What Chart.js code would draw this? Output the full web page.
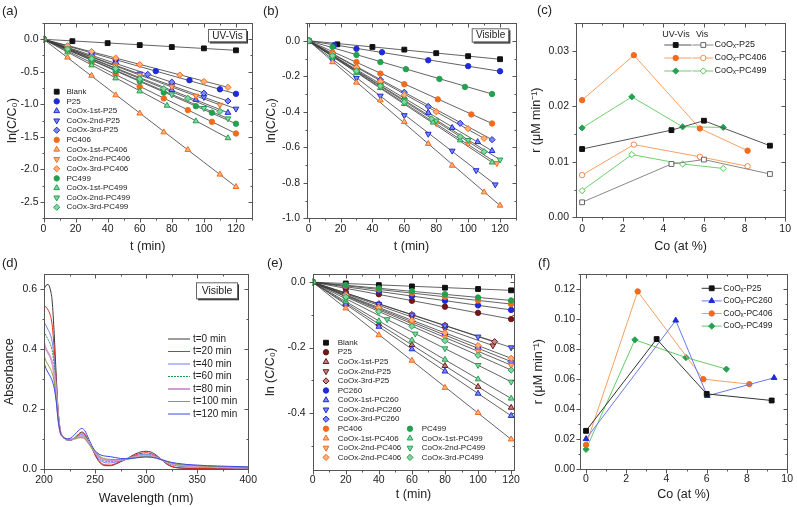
<!DOCTYPE html>
<html>
<head>
<meta charset="utf-8">
<script src="https://cdn.jsdelivr.net/npm/chart.js@4.4.1/dist/chart.umd.min.js"></script>
<style>
html, body { margin: 0; padding: 0; background: #fff; }
#wrap { position: relative; width: 797px; height: 507px; overflow: hidden; }
canvas { position: absolute; }
</style>
</head>
<body>
<div id="wrap">
  <canvas id="cA" width="262" height="254" style="left:0;top:0"></canvas>
  <canvas id="cB" width="262" height="254" style="left:262px;top:0"></canvas>
  <canvas id="cC" width="273" height="254" style="left:524px;top:0"></canvas>
  <canvas id="cD" width="262" height="253" style="left:0;top:254px"></canvas>
  <canvas id="cE" width="262" height="253" style="left:262px;top:254px"></canvas>
  <canvas id="cF" width="273" height="253" style="left:524px;top:254px"></canvas>
</div>
<script>
// ---- (a) UV-Vis kinetics ----
const aSeries = ['Blank', 'P25', 'CoOx-1st-P25', 'CoOx-2nd-P25', 'CoOx-3rd-P25', 'PC406', 'CoOx-1st-PC406',
  'CoOx-2nd-PC406', 'CoOx-3rd-PC406', 'PC499', 'CoOx-1st-PC499', 'CoOx-2nd-PC499', 'CoOx-3rd-PC499'];
const aTime = [
  [0, 18, 40, 60, 80, 100, 120],
  [0, 15, 30, 45, 70, 91, 110, 120],
  [0, 15, 30, 45, 60, 80, 95, 115],
  [0, 15, 30, 45, 60, 80, 100, 120],
  [0, 15, 30, 45, 65, 80, 100, 115],
  [0, 15, 30, 45, 60, 75, 90, 105, 120],
  [0, 15, 30, 45, 60, 75, 90, 110, 120],
  [0, 15, 30, 45, 60, 80, 95, 110],
  [0, 15, 30, 45, 60, 85, 100, 115],
  [0, 15, 30, 45, 60, 75, 95, 105, 120],
  [0, 15, 30, 45, 60, 77, 95, 115],
  [0, 15, 30, 45, 60, 80, 100, 115],
  [0, 15, 30, 45, 60, 75, 90, 110]
];
const aLnC = [
  [0, -0.03, -0.06, -0.09, -0.12, -0.14, -0.17],
  [0, -0.11, -0.21, -0.32, -0.49, -0.63, -0.77, -0.84],
  [0, -0.15, -0.29, -0.44, -0.59, -0.78, -0.93, -1.13],
  [0, -0.13, -0.27, -0.40, -0.53, -0.71, -0.89, -1.07],
  [0, -0.12, -0.25, -0.37, -0.54, -0.66, -0.83, -0.95],
  [0, -0.18, -0.36, -0.54, -0.73, -0.91, -1.09, -1.27, -1.45],
  [0, -0.28, -0.56, -0.86, -1.14, -1.43, -1.70, -2.08, -2.27],
  [0, -0.14, -0.28, -0.41, -0.55, -0.73, -0.87, -1.01],
  [0, -0.10, -0.19, -0.29, -0.39, -0.55, -0.65, -0.74],
  [0, -0.16, -0.33, -0.49, -0.65, -0.82, -1.03, -1.13, -1.30],
  [0, -0.20, -0.40, -0.60, -0.80, -1.02, -1.26, -1.52],
  [0, -0.16, -0.32, -0.48, -0.64, -0.85, -1.06, -1.22],
  [0, -0.15, -0.30, -0.45, -0.61, -0.76, -0.91, -1.11]
];
const aXTicks = [0, 20, 40, 60, 80, 100, 120];
const aYTicks = [0, -0.5, -1.0, -1.5, -2.0, -2.5];

// ---- (b) Visible kinetics ----
const bTime = [
  [0, 18, 40, 60, 80, 100, 120],
  [0, 16, 30, 46, 75, 100, 120],
  [0, 15, 30, 45, 60, 75, 90, 106, 115],
  [0, 15, 30, 45, 60, 75, 90, 105, 117],
  [0, 15, 30, 45, 60, 75, 95, 115],
  [0, 15, 30, 45, 60, 81, 102, 115],
  [0, 15, 30, 45, 60, 75, 90, 110, 120],
  [0, 15, 30, 45, 60, 80, 100, 118],
  [0, 15, 30, 45, 60, 80, 100, 110],
  [0, 15, 30, 45, 61, 82, 98, 115],
  [0, 15, 30, 45, 60, 78, 95, 115],
  [0, 15, 30, 45, 60, 80, 100, 120],
  [0, 15, 30, 45, 60, 77, 95, 110]
];
const bLnC = [
  [0, -0.02, -0.035, -0.05, -0.07, -0.087, -0.104],
  [0, -0.025, -0.045, -0.065, -0.11, -0.143, -0.172],
  [0, -0.08, -0.16, -0.24, -0.32, -0.405, -0.49, -0.57, -0.62],
  [0, -0.11, -0.21, -0.31, -0.42, -0.525, -0.62, -0.73, -0.81],
  [0, -0.075, -0.15, -0.22, -0.29, -0.37, -0.465, -0.557],
  [0, -0.067, -0.12, -0.185, -0.245, -0.33, -0.415, -0.466],
  [0, -0.12, -0.235, -0.335, -0.457, -0.58, -0.703, -0.853, -0.928],
  [0, -0.09, -0.175, -0.26, -0.35, -0.465, -0.58, -0.69],
  [0, -0.075, -0.15, -0.23, -0.305, -0.40, -0.495, -0.55],
  [0, -0.035, -0.08, -0.12, -0.16, -0.215, -0.26, -0.30],
  [0, -0.09, -0.18, -0.265, -0.355, -0.46, -0.56, -0.685],
  [0, -0.085, -0.17, -0.25, -0.335, -0.45, -0.56, -0.67],
  [0, -0.085, -0.17, -0.255, -0.345, -0.44, -0.54, -0.625]
];
const bYTicks = [0, -0.2, -0.4, -0.6, -0.8, -1.0];

// ---- (c) rates vs Co ----
const cCoP25 = [0, 4.4, 6.0, 9.25];
const cUvP25 = [0.0123, 0.0157, 0.0174, 0.0129];
const cVisP25 = [0.0027, 0.0096, 0.0104, 0.0078];
const cCoPC406 = [0, 2.55, 5.8, 8.15];
const cUvPC406 = [0.0211, 0.0292, 0.0160, 0.0120];
const cVisPC406 = [0.0076, 0.0131, 0.0109, 0.0092];
const cCoPC499 = [0, 2.45, 4.95, 6.95];
const cUvPC499 = [0.0161, 0.0217, 0.0163, 0.0162];
const cVisPC499 = [0.0048, 0.0113, 0.0096, 0.0088];
const cXTicks = [0, 2, 4, 6, 8, 10];
const cYTicks = [0, 0.01, 0.02, 0.03];

// ---- (d) spectra ----
const dWave = [200, 202, 204, 206, 208, 210, 212, 214, 216, 218, 220,
  223, 226, 230, 234, 237, 240, 244, 248, 252, 256, 260,
  265, 270, 275, 280, 285, 290, 295, 300, 305, 310, 315, 320, 325, 330,
  340, 350, 360, 370, 380, 390, 400];
const dLabels = ['t=0 min', 't=20 min', 't=40 min', 't=60 min', 't=80 min', 't=100 min', 't=120 min'];
const dAbs = [
  [0.600, 0.612, 0.615, 0.600, 0.560, 0.450, 0.310, 0.190, 0.130, 0.110, 0.104,
   0.098, 0.097, 0.104, 0.118, 0.124, 0.117, 0.090, 0.062, 0.035, 0.018, 0.012,
   0.012, 0.017, 0.025, 0.033, 0.043, 0.052, 0.058, 0.060, 0.057, 0.047, 0.033, 0.018, 0.009, 0.005,
   0.003, 0.002, 0.002, 0.002, 0.002, 0.002, 0.002],
  [0.545, 0.540, 0.530, 0.515, 0.480, 0.400, 0.290, 0.185, 0.128, 0.110, 0.104,
   0.096, 0.096, 0.104, 0.116, 0.121, 0.114, 0.088, 0.062, 0.038, 0.021, 0.015,
   0.014, 0.019, 0.026, 0.033, 0.041, 0.048, 0.053, 0.055, 0.052, 0.044, 0.032, 0.019, 0.010, 0.006,
   0.004, 0.003, 0.003, 0.003, 0.003, 0.003, 0.003],
  [0.490, 0.478, 0.465, 0.450, 0.425, 0.365, 0.275, 0.180, 0.127, 0.110, 0.104,
   0.097, 0.098, 0.104, 0.113, 0.116, 0.110, 0.088, 0.064, 0.043, 0.028, 0.022,
   0.021, 0.024, 0.028, 0.033, 0.039, 0.045, 0.049, 0.050, 0.048, 0.042, 0.032, 0.022, 0.015, 0.011,
   0.008, 0.007, 0.006, 0.005, 0.005, 0.004, 0.004],
  [0.460, 0.445, 0.432, 0.418, 0.395, 0.345, 0.265, 0.175, 0.125, 0.110, 0.104,
   0.098, 0.098, 0.103, 0.110, 0.112, 0.107, 0.087, 0.065, 0.046, 0.032, 0.027,
   0.026, 0.027, 0.030, 0.034, 0.038, 0.043, 0.046, 0.047, 0.045, 0.040, 0.032, 0.024, 0.017, 0.013,
   0.010, 0.008, 0.007, 0.006, 0.006, 0.005, 0.005],
  [0.420, 0.400, 0.388, 0.375, 0.355, 0.315, 0.250, 0.170, 0.124, 0.110, 0.104,
   0.099, 0.099, 0.102, 0.107, 0.108, 0.104, 0.086, 0.066, 0.049, 0.036, 0.031,
   0.030, 0.030, 0.032, 0.034, 0.037, 0.041, 0.044, 0.045, 0.043, 0.039, 0.032, 0.025, 0.019, 0.015,
   0.012, 0.010, 0.009, 0.008, 0.007, 0.006, 0.006],
  [0.380, 0.360, 0.348, 0.336, 0.320, 0.290, 0.235, 0.165, 0.123, 0.110, 0.104,
   0.100, 0.100, 0.102, 0.105, 0.105, 0.101, 0.085, 0.067, 0.051, 0.040, 0.035,
   0.033, 0.032, 0.033, 0.034, 0.036, 0.039, 0.041, 0.042, 0.041, 0.038, 0.032, 0.026, 0.021, 0.017,
   0.014, 0.012, 0.010, 0.009, 0.008, 0.007, 0.007],
  [0.355, 0.335, 0.322, 0.310, 0.295, 0.270, 0.225, 0.160, 0.122, 0.110, 0.104,
   0.101, 0.104, 0.115, 0.130, 0.136, 0.128, 0.100, 0.072, 0.055, 0.047, 0.044,
   0.042, 0.039, 0.036, 0.035, 0.036, 0.038, 0.040, 0.041, 0.040, 0.037, 0.032, 0.027, 0.023, 0.020,
   0.016, 0.014, 0.012, 0.011, 0.010, 0.009, 0.008]
];
const dXTicks = [200, 250, 300, 350, 400];
const dYTicks = [0, 0.2, 0.4, 0.6];

// ---- (e) visible kinetics, more catalysts ----
const eSeries = ['Blank', 'P25', 'CoOx-1st-P25', 'CoOx-2nd-P25', 'CoOx-3rd-P25', 'PC260', 'CoOx-1st-PC260',
  'CoOx-2nd-PC260', 'CoOx-3rd-PC260', 'PC406', 'CoOx-1st-PC406', 'CoOx-2nd-PC406', 'CoOx-2nd-PC406',
  'PC499', 'CoOx-1st-PC499', 'CoOx-2nd-PC499', 'CoOx-3rd-PC499'];
const eTime = [
  [0, 20, 40, 60, 80, 100, 120],
  [0, 20, 40, 60, 80, 100, 120],
  [0, 20, 40, 60, 80, 100, 120],
  [0, 20, 40, 60, 80, 109],
  [0, 20, 40, 60, 80, 110],
  [0, 20, 40, 60, 80, 100, 120],
  [0, 20, 40, 60, 80, 100, 120],
  [0, 20, 40, 60, 80, 100, 120],
  [0, 20, 40, 60, 80, 100, 120],
  [0, 20, 40, 60, 80, 100, 120],
  [0, 20, 40, 60, 80, 100, 120],
  [0, 20, 40, 60, 80, 100, 120],
  [0, 20, 40, 60, 80, 100, 120],
  [0, 20, 40, 60, 80, 100, 120],
  [0, 20, 40, 60, 80, 100, 120],
  [0, 20, 45, 62, 80, 100, 120],
  [0, 20, 40, 60, 80, 100, 120]
];
const eLnC = [
  [0, -0.004, -0.009, -0.013, -0.017, -0.021, -0.025],
  [0, -0.020, -0.037, -0.057, -0.075, -0.094, -0.113],
  [0, -0.064, -0.128, -0.192, -0.256, -0.320, -0.384],
  [0, -0.036, -0.071, -0.107, -0.142, -0.194],
  [0, -0.033, -0.066, -0.099, -0.132, -0.182],
  [0, -0.014, -0.028, -0.043, -0.057, -0.071, -0.085],
  [0, -0.068, -0.136, -0.205, -0.273, -0.341, -0.409],
  [0, -0.033, -0.067, -0.100, -0.133, -0.167, -0.200],
  [0, -0.040, -0.081, -0.121, -0.162, -0.202, -0.243],
  [0, -0.011, -0.022, -0.034, -0.045, -0.056, -0.067],
  [0, -0.080, -0.162, -0.240, -0.323, -0.400, -0.481],
  [0, -0.042, -0.085, -0.127, -0.169, -0.212, -0.254],
  [0, -0.039, -0.078, -0.117, -0.155, -0.194, -0.233],
  [0, -0.009, -0.019, -0.028, -0.037, -0.047, -0.056],
  [0, -0.059, -0.119, -0.178, -0.237, -0.297, -0.356],
  [0, -0.051, -0.114, -0.158, -0.203, -0.254, -0.305],
  [0, -0.045, -0.090, -0.135, -0.179, -0.224, -0.269]
];
const eXTicks = [0, 20, 40, 60, 80, 100, 120];
const eYTicks = [0, -0.2, -0.4];

// ---- (f) visible rates vs Co ----
const fCoP25 = [0, 3.51, 6.0, 9.23];
const fRP25 = [0.0256, 0.0867, 0.0502, 0.0458];
const fCoPC260 = [0, 4.46, 6.03, 9.35];
const fRPC260 = [0.0202, 0.0991, 0.0489, 0.0609];
const fCoPC406 = [0, 2.57, 5.83, 8.12];
const fRPC406 = [0.0162, 0.1184, 0.0600, 0.0567];
const fCoPC499 = [0, 2.43, 4.97, 6.98];
const fRPC499 = [0.0133, 0.0862, 0.0744, 0.0667];
const fXTicks = [0, 2, 4, 6, 8, 10];
const fYTicks = [0, 0.02, 0.04, 0.06, 0.08, 0.10, 0.12];

// styles
const FF = '"Liberation Sans", Arial, Helvetica, sans-serif';
const INK = '#222';
const FAM = {
  k: { c: '#111111', l: '#111111' },
  b: { c: '#1f2bd6', l: '#7d87ee' },
  o: { c: '#f26a1e', l: '#fbb27c' },
  g: { c: '#23a150', l: '#86d5a0' },
  m: { c: '#701818', l: '#c08585' }
};
const SHAPE = { rect: ['rect', 0, 3.4], circle: ['circle', 0, 2.7], tri: ['triangle', 0, 3.3], down: ['triangle', 180, 3.3], dia: ['rectRot', 0, 3.1] };
const abShapes = ['rect', 'circle', 'tri', 'down', 'dia', 'circle', 'tri', 'down', 'dia', 'circle', 'tri', 'down', 'dia'];
const abFams = ['k', 'b', 'b', 'b', 'b', 'o', 'o', 'o', 'o', 'g', 'g', 'g', 'g'];
const eShapes = ['rect', 'circle', 'tri', 'down', 'dia', 'circle', 'tri', 'down', 'dia', 'circle', 'tri', 'down', 'dia', 'circle', 'tri', 'down', 'dia'];
const eFams = ['k', 'm', 'm', 'm', 'm', 'b', 'b', 'b', 'b', 'o', 'o', 'o', 'o', 'g', 'g', 'g', 'g'];
const dColors = ['#3a3a3a', '#e8281e', '#6f7ff0', '#1e9a50', '#d79bd2', '#8aa040', '#3848e8'];
const dWidths = [1, 1, 1, 1, 2, 1, 1];

Chart.defaults.font.family = FF;
Chart.defaults.color = INK;

const fmt = d => v => v.toFixed(d);

function fillOf(sh, fam) {
  return (sh === 'rect' || sh === 'circle') ? FAM[fam].c : FAM[fam].l;
}

function drawMarker(ctx, sh, fill, stroke, x, y) {
  const s = SHAPE[sh];
  ctx.save();
  ctx.fillStyle = fill;
  ctx.strokeStyle = stroke;
  ctx.lineWidth = 1;
  Chart.helpers.drawPoint(ctx, { pointStyle: s[0], rotation: s[1], radius: s[2], borderWidth: 1 }, x, y);
  ctx.restore();
}

function txt(ctx, s, x, y, size, align) {
  ctx.save();
  ctx.font = size + 'px ' + FF;
  ctx.fillStyle = INK;
  ctx.textAlign = align || 'left';
  ctx.textBaseline = 'middle';
  ctx.fillText(s, x, y);
  ctx.restore();
}

function tagBox(ctx, x, y, w, h, s, size) {
  ctx.save();
  ctx.fillStyle = '#333';
  ctx.fillRect(x + 2, y + 2, w, h);
  ctx.fillStyle = '#fff';
  ctx.fillRect(x, y, w, h);
  ctx.strokeStyle = '#666';
  ctx.lineWidth = 1;
  ctx.strokeRect(x + 0.5, y + 0.5, w, h);
  ctx.restore();
  txt(ctx, s, x + w / 2 + 0.5, y + h / 2 + 0.5, size, 'center');
}

function seg(ctx, x1, x2, y, color, width, dash) {
  ctx.save();
  ctx.strokeStyle = color;
  ctx.lineWidth = width;
  ctx.setLineDash(dash || []);
  ctx.beginPath();
  ctx.moveTo(x1, y);
  ctx.lineTo(x2, y);
  ctx.stroke();
  ctx.restore();
}

// frame with mirrored ticks: out on left/bottom, in on top/right
function frameTicks(xs, ys) {
  return {
    id: 'frameTicks',
    afterDatasetsDraw(chart) {
      const { ctx, chartArea: a } = chart;
      const X = chart.scales.x, Y = chart.scales.y;
      const L = Math.round(a.left) + 0.5, R = Math.round(a.right) + 0.5;
      const T = Math.round(a.top) + 0.5, B = Math.round(a.bottom) + 0.5;
      ctx.save();
      ctx.strokeStyle = '#555';
      ctx.lineWidth = 1;
      ctx.strokeRect(L, T, R - L, B - T);
      ctx.beginPath();
      const steps = (s, step) => {
        const out = [];
        for (let k = Math.ceil(s.min / step - 1e-6); k * step <= s.max + 1e-6; k++) out.push(k * step);
        return out;
      };
      steps(X, xs.minor).forEach(v => {
        const len = xs.ticks.some(t => Math.abs(t - v) < 1e-6) ? 4 : 2;
        const p = Math.round(X.getPixelForValue(v)) + 0.5;
        ctx.moveTo(p, B); ctx.lineTo(p, B + len);
        ctx.moveTo(p, T); ctx.lineTo(p, T + len);
      });
      steps(Y, ys.minor).forEach(v => {
        const len = ys.ticks.some(t => Math.abs(t - v) < 1e-6) ? 4 : 2;
        const p = Math.round(Y.getPixelForValue(v)) + 0.5;
        ctx.moveTo(L, p); ctx.lineTo(L - len, p);
        ctx.moveTo(R, p); ctx.lineTo(R - len, p);
      });
      ctx.stroke();
      ctx.restore();
    }
  };
}

function axis(s, isX, size) {
  return {
    type: 'linear',
    min: s.min,
    max: s.max,
    afterBuildTicks: sc => { sc.ticks = s.ticks.map(v => ({ value: v })); },
    afterFit: sc => { if (isX) sc.height = size; else sc.width = size; },
    grid: { display: false, drawTicks: false },
    border: { display: false },
    ticks: { autoSkip: false, maxRotation: 0, padding: s.pad, font: { size: 10.5 }, color: INK, callback: v => s.fmt(v) },
    title: { display: true, text: s.title, font: { size: 12.5 }, color: INK, padding: s.tpad }
  };
}

function panel(id, box, xs, ys, datasets, overlay) {
  return new Chart(document.getElementById(id), {
    type: 'scatter',
    data: { datasets },
    options: {
      responsive: false,
      animation: false,
      devicePixelRatio: 1,
      layout: { padding: { left: 0, top: box.top, right: box.right, bottom: 0 }, autoPadding: false },
      plugins: { legend: { display: false }, tooltip: { enabled: false } },
      scales: { x: axis(xs, true, box.xh), y: axis(ys, false, box.yw) }
    },
    plugins: [frameTicks(xs, ys), { id: 'overlay', afterDraw: c => overlay(c.ctx) }]
  });
}

function kinetic(names, times, vals, shapes, fams) {
  const pts = [], fits = [];
  names.forEach((n, i) => {
    const data = times[i].map((t, j) => ({ x: t, y: vals[i][j] }));
    const s = SHAPE[shapes[i]];
    pts.push({
      label: n, data, showLine: false,
      pointStyle: s[0], pointRotation: s[1], pointRadius: s[2],
      pointBackgroundColor: fillOf(shapes[i], fams[i]), pointBorderColor: FAM[fams[i]].c, pointBorderWidth: 1,
      order: names.length - i
    });
    fits.push({
      data: [data[0], data[data.length - 1]], showLine: true,
      borderColor: '#3c3c3c', borderWidth: 0.8, pointRadius: 0, order: 100
    });
  });
  return pts.concat(fits);
}

function rateLine(xv, yv, line, sh, fill, stroke) {
  const s = SHAPE[sh];
  return {
    data: xv.map((x, i) => ({ x, y: yv[i] })), showLine: true,
    borderColor: line, borderWidth: 1,
    pointStyle: s[0], pointRotation: s[1], pointRadius: s[2],
    pointBackgroundColor: fill, pointBorderColor: stroke, pointBorderWidth: 1
  };
}

// (a)
panel('cA', { top: 23, right: 10, xh: 36, yw: 43.5 },
  { min: 0, max: 130, ticks: aXTicks, minor: 10, fmt: fmt(0), pad: 5, title: 't (min)', tpad: { top: 0, bottom: 0 } },
  { min: -2.75, max: 0.25, ticks: aYTicks, minor: 0.25, fmt: fmt(1), pad: 5, title: 'ln(C/C\u2080)', tpad: { top: 5.5, bottom: 0 } },
  kinetic(aSeries, aTime, aLnC, abShapes, abFams),
  ctx => {
    txt(ctx, '(a)', 2, 11, 13);
    tagBox(ctx, 208, 29, 38, 12.5, 'UV-Vis', 10);
    aSeries.forEach((n, i) => {
      const y = 91.7 + i * 9.63;
      drawMarker(ctx, abShapes[i], fillOf(abShapes[i], abFams[i]), FAM[abFams[i]].c, 56.7, y);
      txt(ctx, n, 66.5, y, 8);
    });
  });

// (b)
panel('cB', { top: 23, right: 8, xh: 35.7, yw: 45 },
  { min: -1, max: 130, ticks: aXTicks, minor: 10, fmt: fmt(0), pad: 5, title: 't (min)', tpad: { top: 0, bottom: 0 } },
  { min: -1.0, max: 0.1, ticks: bYTicks, minor: 0.1, fmt: fmt(1), pad: 7, title: 'ln(C/C\u2080)', tpad: { top: 2.5, bottom: 0 } },
  kinetic(aSeries, bTime, bLnC, abShapes, abFams),
  ctx => {
    txt(ctx, '(b)', 1, 11, 13);
    tagBox(ctx, 209.7, 28.3, 36.7, 13.3, 'Visible', 10);
  });

// (c)
const cRows = [
  ['CoO\u2093-P25', '#555555', 'rect', '#111111', '#111111', '#888888', '#666666'],
  ['CoO\u2093-PC406', '#f7a066', 'circle', '#f26a1e', '#f26a1e', '#f7a066', '#f5884a'],
  ['CoO\u2093-PC499', '#6fcf6f', 'dia', '#23a150', '#23a150', '#6fcf6f', '#4cc44c']
];
panel('cC', { top: 23, right: 11.5, xh: 36.7, yw: 52 },
  { min: -0.3, max: 10, ticks: cXTicks, minor: 1, fmt: fmt(0), pad: 6, title: 'Co (at %)', tpad: { top: 0, bottom: 0 } },
  { min: 0, max: 0.035, ticks: cYTicks, minor: 0.005, fmt: fmt(2), pad: 7, title: 'r (\u03bcM min\u207b\u00b9)', tpad: { top: 5.5, bottom: 0 } },
  [
    rateLine(cCoP25, cUvP25, cRows[0][1], 'rect', cRows[0][3], cRows[0][4]),
    rateLine(cCoP25, cVisP25, cRows[0][5], 'rect', '#ffffff', cRows[0][6]),
    rateLine(cCoPC406, cUvPC406, cRows[1][1], 'circle', cRows[1][3], cRows[1][4]),
    rateLine(cCoPC406, cVisPC406, cRows[1][5], 'circle', '#ffffff', cRows[1][6]),
    rateLine(cCoPC499, cUvPC499, cRows[2][1], 'dia', cRows[2][3], cRows[2][4]),
    rateLine(cCoPC499, cVisPC499, cRows[2][5], 'dia', '#ffffff', cRows[2][6])
  ],
  ctx => {
    txt(ctx, '(c)', 13, 10, 13);
    txt(ctx, 'UV-Vis', 138.3, 34.3, 9);
    txt(ctx, 'Vis', 172, 34.3, 9);
    cRows.forEach((r, i) => {
      const y = 45 + i * 13;
      seg(ctx, 140.3, 167.7, y, r[1], 1);
      drawMarker(ctx, r[2], r[3], r[4], 151.7, y);
      seg(ctx, 168.5, 189.3, y, r[5], 1);
      drawMarker(ctx, r[2], '#ffffff', r[6], 179.3, y);
      txt(ctx, r[0], 190.5, y, 9);
    });
  });

// (d)
panel('cD', { top: 20, right: 8, xh: 37.7, yw: 44 },
  { min: 200, max: 400, ticks: dXTicks, minor: 25, fmt: fmt(0), pad: 5, title: 'Wavelength (nm)', tpad: { top: 0, bottom: 1.2 } },
  { min: 0, max: 0.65, ticks: dYTicks, minor: 0.1, fmt: fmt(1), pad: 7, title: 'Absorbance', tpad: { top: 1.8, bottom: 0 } },
  dAbs.map((vals, i) => ({
    data: dWave.map((w, j) => ({ x: w, y: vals[j] })), showLine: true,
    borderColor: dColors[i], borderWidth: dWidths[i], borderDash: i === 3 ? [2, 1] : [],
    pointRadius: 0, cubicInterpolationMode: 'monotone', order: i === 6 ? 0 : 7 - i
  })),
  ctx => {
    txt(ctx, '(d)', 2, 9, 13);
    tagBox(ctx, 196, 28.3, 41, 16, 'Visible', 10.5);
    dLabels.forEach((n, i) => {
      const y = 85 + i * 12.5;
      seg(ctx, 168, 190, y, dColors[i], dWidths[i], i === 3 ? [2, 1] : []);
      txt(ctx, n, 193, y, 10);
    });
  });

// (e)
panel('cE', { top: 20, right: 7.3, xh: 37, yw: 50.7 },
  { min: 0, max: 122, ticks: eXTicks, minor: 10, fmt: fmt(0), pad: 4, title: 't (min)', tpad: { top: 0, bottom: 4.5 } },
  { min: -0.575, max: 0.025, ticks: eYTicks, minor: 0.1, fmt: fmt(1), pad: 7, title: 'ln (C/C\u2080)', tpad: { top: 1.5, bottom: 0 } },
  kinetic(eSeries, eTime, eLnC, eShapes, eFams),
  ctx => {
    txt(ctx, '(e)', 5, 9, 13);
    eSeries.forEach((n, i) => {
      const right = i >= 13;
      const row = right ? i - 4 : i;
      const y = 88.7 + row * 9.56;
      const mx = right ? 148 : 64;
      drawMarker(ctx, eShapes[i], fillOf(eShapes[i], eFams[i]), FAM[eFams[i]].c, mx, y);
      txt(ctx, n, mx + 11.7, y, 8);
    });
  });

// (f)
const fRows = [
  ['CoO\u2093-P25', '#333333', 'rect', '#111111'],
  ['CoO\u2093-PC260', '#6a78ee', 'tri', '#1f2bd6'],
  ['CoO\u2093-PC406', '#f5a060', 'circle', '#f26a1e'],
  ['CoO\u2093-PC499', '#66cc66', 'dia', '#23a150']
];
panel('cF', { top: 20, right: 7, xh: 37.7, yw: 56 },
  { min: -0.3, max: 10, ticks: fXTicks, minor: 1, fmt: fmt(0), pad: 4, title: 'Co (at %)', tpad: { top: 0, bottom: 4.5 } },
  { min: 0, max: 0.13, ticks: fYTicks, minor: 0.01, fmt: fmt(2), pad: 5, title: 'r (\u03bcM min\u207b\u00b9)', tpad: { top: 7, bottom: 0 } },
  [
    rateLine(fCoP25, fRP25, fRows[0][1], 'rect', fRows[0][3], fRows[0][3]),
    rateLine(fCoPC260, fRPC260, fRows[1][1], 'tri', fRows[1][3], fRows[1][3]),
    rateLine(fCoPC406, fRPC406, fRows[2][1], 'circle', fRows[2][3], fRows[2][3]),
    rateLine(fCoPC499, fRPC499, fRows[3][1], 'dia', fRows[3][3], fRows[3][3])
  ],
  ctx => {
    txt(ctx, '(f)', 14, 9, 13);
    fRows.forEach((r, i) => {
      const y = 34.3 + i * 12.6;
      seg(ctx, 177.7, 197.7, y, r[1], 1);
      drawMarker(ctx, r[2], r[3], r[3], 187.7, y);
      txt(ctx, r[0], 199.3, y, 8.5);
    });
  });
</script>
</body>
</html>
